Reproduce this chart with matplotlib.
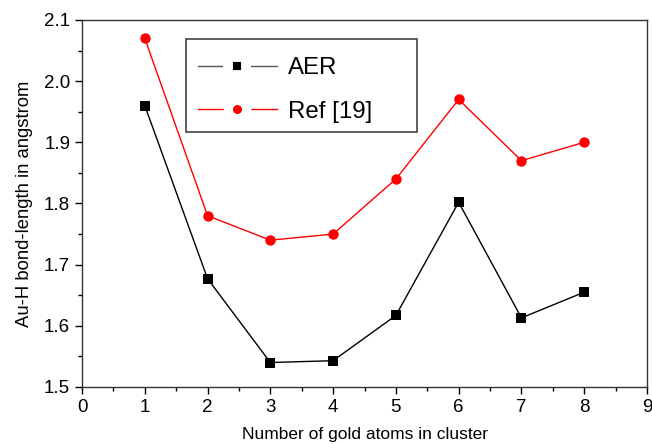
import matplotlib.pyplot as plt
from matplotlib.ticker import MultipleLocator
from matplotlib.lines import Line2D
from matplotlib.patches import Rectangle

plt.rcParams['font.family'] = ['Liberation Sans', 'DejaVu Sans']

# data
n_atoms = [1, 2, 3, 4, 5, 6, 7, 8]
aer = [1.960, 1.677, 1.540, 1.543, 1.617, 1.802, 1.613, 1.655]
ref19 = [2.07, 1.78, 1.74, 1.75, 1.84, 1.97, 1.87, 1.90]

fig = plt.figure(figsize=(6.52, 4.44), dpi=100)
ax = fig.add_axes([0.1258, 0.1284, 0.8665, 0.8266])

ax.plot(n_atoms, aer, color='black', linewidth=1, marker='s',
        markersize=6.5, markeredgewidth=0, zorder=3)
ax.plot(n_atoms, ref19, color='red', linewidth=1, marker='o',
        markersize=7.5, markeredgewidth=0, zorder=3)

ax.set_xlim(0, 9)
ax.set_ylim(1.5, 2.1)
ax.xaxis.set_major_locator(MultipleLocator(1))
ax.xaxis.set_minor_locator(MultipleLocator(0.5))
ax.yaxis.set_major_locator(MultipleLocator(0.1))
ax.yaxis.set_minor_locator(MultipleLocator(0.05))
ax.yaxis.set_major_formatter(plt.FormatStrFormatter('%.1f'))
ax.tick_params(which='both', direction='out', top=False, right=False,
               labelsize=13.5, width=1, color='black')
ax.tick_params(which='major', length=5)
ax.tick_params(which='minor', length=3)
for s in ax.spines.values():
    s.set_linewidth(1)
    s.set_color('#333333')

ax.set_xlabel('Number of gold atoms in cluster', fontsize=12.5, labelpad=8)
ax.set_ylabel('Au-H bond-length in angstrom', fontsize=13.3, labelpad=8)

# legend: line - marker - line, with a gap around the marker (white edge)
h1 = Line2D([], [], color='#555555', linewidth=1, marker='s', markersize=12.9,
            markerfacecolor='black', markeredgecolor='white', markeredgewidth=7.1)
h2 = Line2D([], [], color='red', linewidth=1, marker='o', markersize=13.2,
            markerfacecolor='red', markeredgecolor='white', markeredgewidth=6.6)
leg = ax.legend([h1, h2], ['AER', 'Ref [19]'], loc='upper left',
                bbox_to_anchor=(0.205, 0.899), numpoints=1, handlelength=3.3,
                fontsize=17.3, frameon=False, borderpad=0, labelspacing=0.9,
                handletextpad=0.46, borderaxespad=0)
ax.add_patch(Rectangle((0.184, 0.695), 0.409, 0.253, transform=ax.transAxes,
                       fill=False, edgecolor='#444444', linewidth=1.2, zorder=4))

fig.savefig('out.png', dpi=100)
